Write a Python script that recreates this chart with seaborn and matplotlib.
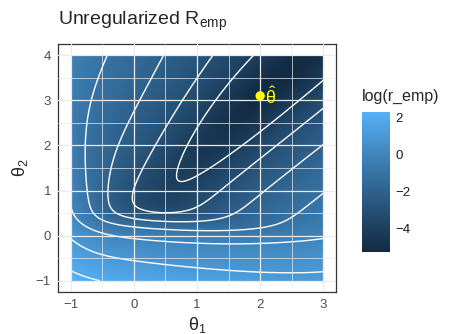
import numpy as np
import matplotlib
matplotlib.use("Agg")
import matplotlib.pyplot as plt
from matplotlib.colors import ListedColormap
import seaborn as sns

# parameter grid shown in the plot
theta1 = np.linspace(-1, 3, 201)
theta2 = np.linspace(-1, 4, 251)

# observations of the softplus units: feature weights, offset, target
sp_x1 = [0.42742, -0.47104, -2.68726, -0.67564]
sp_x2 = [-0.40053, -2.47929, -0.46040, 0.18895]
sp_off = [-0.43049, -0.31642, -1.99428, -1.07670]
sp_y = [0.35948, 0.06702, 0.02657, 0.13057]

# observation of the sigmoid unit
sg_x1 = [0.48554]
sg_x2 = [5.72280]
sg_off = [-1.02302]
sg_y = [0.99353]

# estimate marked in the plot
theta_hat = [2.0, 3.1]
contour_levels = [-4, -3, -2, -1, 0, 1, 2]
cbar_ticks = [-4, -2, 0, 2]


def softplus(x):
    return np.logaddexp(0.0, x)


def sigmoid(x):
    return 0.5 * (1 + np.tanh(0.5 * x))


# unregularized empirical risk: sum of squared residuals
T1, T2 = np.meshgrid(theta1, theta2)
r_emp = np.zeros_like(T1)
for a, b, c, y in zip(sp_x1, sp_x2, sp_off, sp_y):
    r_emp += (y - softplus(a * T1 + b * T2 + c)) ** 2
for a, b, c, y in zip(sg_x1, sg_x2, sg_off, sg_y):
    r_emp += (y - sigmoid(a * T1 + b * T2 + c)) ** 2
Z = np.log(r_emp)


# ggplot default continuous scale, interpolated in CIELAB
M = np.array([[0.4124, 0.3576, 0.1805], [0.2126, 0.7152, 0.0722], [0.0193, 0.1192, 0.9505]])
WHITE = np.array([0.95047, 1.0, 1.08883])


def to_lab(hexc):
    c = np.array([int(hexc[i:i + 2], 16) / 255 for i in (1, 3, 5)])
    lin = np.where(c <= 0.04045, c / 12.92, ((c + 0.055) / 1.055) ** 2.4)
    xyz = M @ lin / WHITE
    f = np.where(xyz > (6 / 29) ** 3, np.cbrt(xyz), xyz / (3 * (6 / 29) ** 2) + 4 / 29)
    return np.array([116 * f[1] - 16, 500 * (f[0] - f[1]), 200 * (f[1] - f[2])])


def from_lab(lab):
    fy = (lab[0] + 16) / 116
    fv = np.array([fy + lab[1] / 500, fy, fy - lab[2] / 200])
    xyz = np.where(fv > 6 / 29, fv ** 3, 3 * (6 / 29) ** 2 * (fv - 4 / 29)) * WHITE
    lin = np.linalg.solve(M, xyz)
    c = np.where(lin <= 0.0031308, 12.92 * lin, 1.055 * np.clip(lin, 0, None) ** (1 / 2.4) - 0.055)
    return np.clip(c, 0, 1)


lo, hi = to_lab("#132B43"), to_lab("#56B1F7")
cmap = ListedColormap([from_lab(lo + (hi - lo) * t) for t in np.linspace(0, 1, 256)])

sns.set_theme(style="white")
plt.rcParams["font.family"] = ["Liberation Sans", "DejaVu Sans"]
plt.rcParams["mathtext.fontset"] = "custom"
plt.rcParams["mathtext.rm"] = "Liberation Sans"
plt.rcParams["mathtext.it"] = "Liberation Sans"
plt.rcParams["mathtext.default"] = "regular"

fig = plt.figure(figsize=(4.49, 3.34), dpi=100)
ax = fig.add_axes([58 / 449, 1 - 292 / 334, 278 / 449, 248 / 334])
im = ax.imshow(Z, extent=[theta1[0], theta1[-1], theta2[0], theta2[-1]], origin="lower",
               aspect="auto", cmap=cmap, vmin=Z.min(), vmax=Z.max(),
               interpolation="bilinear", zorder=1)
ax.contour(T1, T2, Z, levels=contour_levels, colors="white", linewidths=1.0,
           linestyles="solid", zorder=2)

# grid on top of the raster
for v in np.arange(-1, 3.01, 0.5):
    ax.axvline(v, color="#EBEBEB", lw=0.9 if v % 1 == 0 else 0.5, zorder=3)
for v in np.arange(-1, 4.01, 0.5):
    ax.axhline(v, color="#EBEBEB", lw=0.9 if v % 1 == 0 else 0.5, zorder=3)

sns.scatterplot(x=[theta_hat[0]], y=[theta_hat[1]], color="yellow", s=45,
                edgecolor="none", ax=ax, zorder=5)
ax.text(theta_hat[0] + 0.08, theta_hat[1] - 0.03, r"$\hat{\theta}$", color="yellow",
        fontsize=13, ha="left", va="center", zorder=5)

ax.set_xlim(-1.2, 3.2)
ax.set_ylim(-1.25, 4.25)
ax.set_xticks(range(-1, 4))
ax.set_yticks(range(-1, 5))
for s in ax.spines.values():
    s.set_color("#333333")
    s.set_linewidth(0.9)
ax.tick_params(length=3, width=0.8, color="#333333", labelcolor="#4D4D4D", labelsize=9.5, pad=2)
ax.set_xlabel(r"$\theta_1$", fontsize=13, labelpad=3)
ax.set_ylabel(r"$\theta_2$", fontsize=13, labelpad=4)

cax = fig.add_axes([362 / 449, 1 - 252 / 334, 28 / 449, 140 / 334])
cb = fig.colorbar(im, cax=cax, ticks=cbar_ticks)
cb.outline.set_visible(False)
cax.tick_params(axis="y", direction="in", length=5, width=0.8, color="white",
                left=True, right=True, labelsize=9.5, labelcolor="#1A1A1A", pad=4)

fig.text(58 / 449, 1 - 25 / 334, r"Unregularized R$_{emp}$", fontsize=14, va="baseline")
fig.text(362 / 449, 1 - 101 / 334, "log(r_emp)", fontsize=11.5, va="baseline")
fig.savefig("out.png")
